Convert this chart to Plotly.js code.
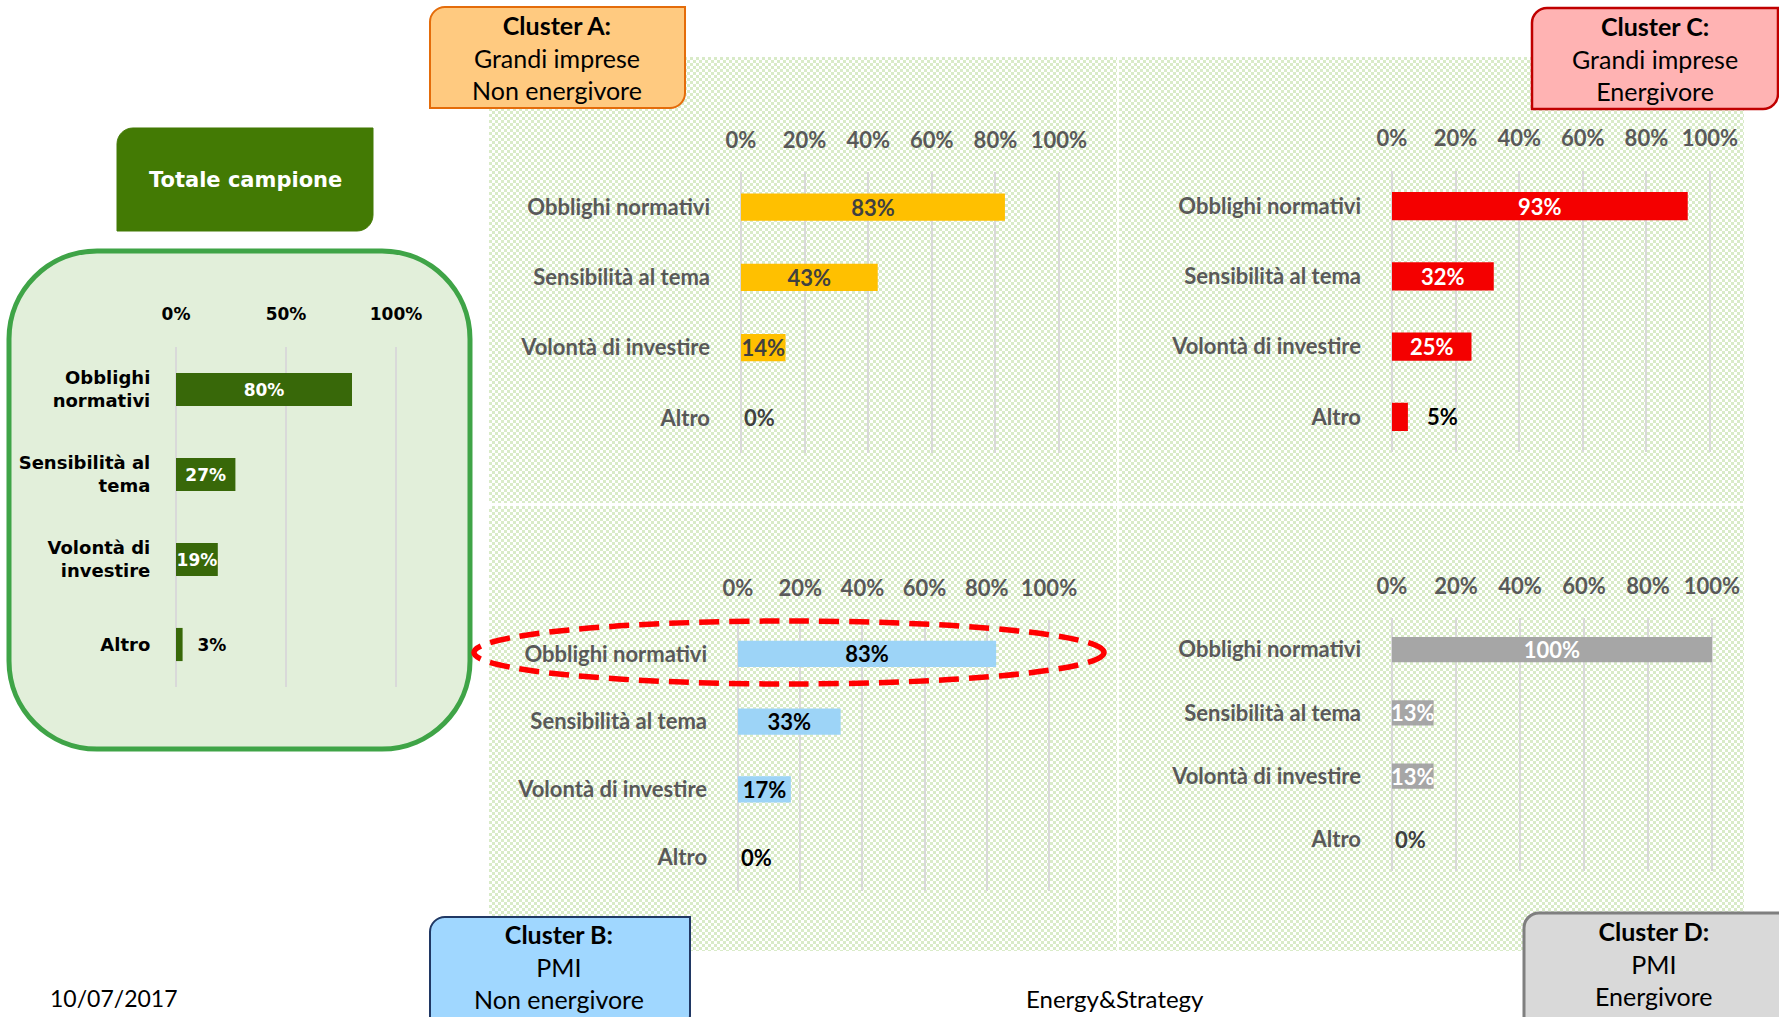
<!DOCTYPE html>
<html>
<head>
<meta charset="utf-8">
<script src="https://cdn.plot.ly/plotly-3.0.1.min.js"></script>
<style>
  html, body { margin:0; padding:0; background:#ffffff; overflow:hidden; }
  #wrap { position:relative; width:1779px; height:1017px; }
  .pat { position:absolute; background-color:#ffffff;
         background-image: repeating-conic-gradient(#D9EBC8 0 25%, #ffffff 0 50%);
         background-size:6px 6px; z-index:0; }
  #chart { position:absolute; left:0; top:0; width:1779px; height:1017px; z-index:1; }
</style>
</head>
<body>
<div id="wrap">
  <div class="pat" style="left:489px;top:57px;width:628px;height:446px;"></div>
  <div class="pat" style="left:1119px;top:57px;width:625px;height:446px;"></div>
  <div class="pat" style="left:489px;top:506px;width:628px;height:445px;"></div>
  <div class="pat" style="left:1119px;top:506px;width:625px;height:445px;"></div>
  <div id="chart"></div>
</div>
<script>
// ---------------- DATA ----------------
const categoriesTotale = ['Obblighi<br>normativi', 'Sensibilità al<br>tema', 'Volontà di<br>investire', 'Altro'];
const categoriesCluster = ['Obblighi normativi', 'Sensibilità al tema', 'Volontà di investire', 'Altro'];
const valuesTotale = [80, 27, 19, 3];
const valuesClusterA = [83, 43, 14, 0];
const valuesClusterB = [83, 33, 17, 0];
const valuesClusterC = [93, 32, 25, 5];
const valuesClusterD = [100, 13, 13, 0];
const ticksTotale = [0, 50, 100];
const tickLabelsTotale = ['0%', '50%', '100%'];
const ticksCluster = [0, 20, 40, 60, 80, 100];
const tickLabelsCluster = ['0%', '20%', '40%', '60%', '80%', '100%'];
const titleTotale = 'Totale campione';
const clusterA = ['Cluster A:', 'Grandi imprese', 'Non energivore'];
const clusterB = ['Cluster B:', 'PMI', 'Non energivore'];
const clusterC = ['Cluster C:', 'Grandi imprese', 'Energivore'];
const clusterD = ['Cluster D:', 'PMI', 'Energivore'];
const footerDate = '10/07/2017';
const footerSource = 'Energy&Strategy';

// ---------------- HELPERS ----------------
const W = 1779, H = 1017;
const X = p => p / W;
const Y = p => 1 - p / H;
const f = v => v.toFixed(5);

function rrect(x0, y0, x1, y1, r) {
  const k = 0.5523;
  const tl = r.tl || 0, tr = r.tr || 0, br = r.br || 0, bl = r.bl || 0;
  const P = (x, y) => f(X(x)) + ',' + f(Y(y));
  let s = 'M' + P(x0 + tl, y0);
  s += ' L' + P(x1 - tr, y0);
  if (tr) s += ' C' + P(x1 - tr + tr * k, y0) + ' ' + P(x1, y0 + tr - tr * k) + ' ' + P(x1, y0 + tr);
  s += ' L' + P(x1, y1 - br);
  if (br) s += ' C' + P(x1, y1 - br + br * k) + ' ' + P(x1 - br + br * k, y1) + ' ' + P(x1 - br, y1);
  s += ' L' + P(x0 + bl, y1);
  if (bl) s += ' C' + P(x0 + bl - bl * k, y1) + ' ' + P(x0, y1 - bl + bl * k) + ' ' + P(x0, y1 - bl);
  s += ' L' + P(x0, y0 + tl);
  if (tl) s += ' C' + P(x0, y0 + tl - tl * k) + ' ' + P(x0 + tl - tl * k, y0) + ' ' + P(x0 + tl, y0);
  s += ' Z';
  return s;
}

const CAL = 'Lato, "Open Sans", sans-serif';
const VER = '"DejaVu Sans", Verdana, sans-serif';
const clusterTickFont = {family: CAL, size: 22, color: '#595959', weight: 'bold'};
const totaleTickFont = {family: VER, size: 17, color: '#000000', weight: 'bold'};
const totaleCatFont = {family: VER, size: 18, color: '#000000', weight: 'bold'};

const PAD = 0.5; // small range padding so that the 0% and 100% gridlines are drawn
function xAxis(px0, px1, yName, tickvals, ticktext, font, ticklen) {
  const u = (px1 - px0) / 100;
  return {
    domain: [X(px0 - PAD * u), X(px1 + PAD * u)], anchor: yName, side: 'top', range: [-PAD, 100 + PAD],
    tickmode: 'array', tickvals: tickvals, ticktext: ticktext,
    showgrid: true, gridcolor: '#D9D9D9', gridwidth: 2, zeroline: false, showline: false,
    ticks: 'outside', ticklen: ticklen, tickcolor: 'rgba(0,0,0,0)', tickfont: font, fixedrange: true
  };
}
function yAxis(py0, py1, xName, font, ticklen) {
  return {
    domain: [Y(py1), Y(py0)], anchor: xName, type: 'category', range: [3.5, -0.5],
    showgrid: false, zeroline: false, showline: false,
    ticks: 'outside', ticklen: ticklen, tickcolor: 'rgba(0,0,0,0)', tickfont: font, fixedrange: true
  };
}
function barTrace(cats, vals, xa, ya, color, width, txtColors, txtFont, nb) {
  return {
    type: 'bar', orientation: 'h', x: vals, y: cats, xaxis: xa, yaxis: ya,
    marker: {color: color, line: {width: 0}}, width: width,
    text: vals.map(v => (v > 0 && v < 10 ? nb : '') + v + '%'),
    textposition: vals.map(v => v >= 10 ? 'inside' : 'outside'),
    insidetextanchor: 'middle', textangle: 0, constraintext: 'none', cliponaxis: false,
    textfont: Object.assign({}, txtFont, {color: txtColors}),
    hoverinfo: 'skip', showlegend: false
  };
}

const clusterTextFont = {family: CAL, size: 22, weight: 'bold'};
const totaleTextFont = {family: VER, size: 17, weight: 'bold'};
const NB3 = '\u00a0\u00a0\u00a0';
const NB2 = '\u00a0\u00a0';

const data = [
  barTrace(categoriesTotale, valuesTotale, 'x', 'y', '#386809', 0.39,
           ['#ffffff', '#ffffff', '#ffffff', '#000000'], totaleTextFont, NB2),
  barTrace(categoriesCluster, valuesClusterA, 'x2', 'y2', '#FFC000', 0.39,
           ['#404040', '#404040', '#404040', '#404040'], clusterTextFont, NB3),
  barTrace(categoriesCluster, valuesClusterC, 'x3', 'y3', '#F40000', 0.40,
           ['#ffffff', '#ffffff', '#ffffff', '#000000'], clusterTextFont, NB3),
  barTrace(categoriesCluster, valuesClusterB, 'x4', 'y4', '#9DD4F7', 0.39,
           ['#000000', '#000000', '#000000', '#000000'], clusterTextFont, NB3),
  barTrace(categoriesCluster, valuesClusterD, 'x5', 'y5', '#A6A6A6', 0.40,
           ['#ffffff', '#ffffff', '#ffffff', '#404040'], clusterTextFont, NB3)
];

function boxText(lines, cx, cy) {
  return {
    xref: 'paper', yref: 'paper', x: X(cx), y: Y(cy), xanchor: 'center', yanchor: 'middle',
    showarrow: false, align: 'center',
    text: '<b>' + lines[0] + '</b><br>' + lines[1] + '<br>' + lines[2],
    font: {family: CAL, size: 25, color: '#000000'}
  };
}

const layout = {
  width: W, height: H, margin: {l: 0, r: 0, t: 0, b: 0},
  paper_bgcolor: 'rgba(0,0,0,0)', plot_bgcolor: 'rgba(0,0,0,0)',
  font: {family: CAL},
  showlegend: false,
  xaxis: xAxis(176, 396, 'y', ticksTotale, tickLabelsTotale, totaleTickFont, 19),
  yaxis: yAxis(347, 687, 'x', totaleCatFont, 20),
  xaxis2: xAxis(741, 1059, 'y2', ticksCluster, tickLabelsCluster, clusterTickFont, 14),
  yaxis2: yAxis(172, 453, 'x2', clusterTickFont, 24),
  xaxis3: xAxis(1392, 1710, 'y3', ticksCluster, tickLabelsCluster, clusterTickFont, 15),
  yaxis3: yAxis(171, 452, 'x3', clusterTickFont, 24),
  xaxis4: xAxis(738, 1049, 'y4', ticksCluster, tickLabelsCluster, clusterTickFont, 14),
  yaxis4: yAxis(620, 891, 'x4', clusterTickFont, 24),
  xaxis5: xAxis(1392, 1712, 'y5', ticksCluster, tickLabelsCluster, clusterTickFont, 14),
  yaxis5: yAxis(618, 871, 'x5', clusterTickFont, 24),
  shapes: [
    {type: 'path', xref: 'paper', yref: 'paper', layer: 'below',
     path: rrect(9, 251, 470, 749, {tl: 88, tr: 88, br: 88, bl: 88}),
     fillcolor: '#E2EFDA', line: {color: '#3FA447', width: 5}},
    {type: 'path', xref: 'paper', yref: 'paper', layer: 'below',
     path: rrect(117, 128, 373, 231, {tl: 16, br: 16}),
     fillcolor: '#437A04', line: {color: '#437A04', width: 1}},
    {type: 'path', xref: 'paper', yref: 'paper', layer: 'below',
     path: rrect(430, 7, 685, 108, {tl: 15, br: 15}),
     fillcolor: '#FFCA80', line: {color: '#E46C0A', width: 2}},
    {type: 'path', xref: 'paper', yref: 'paper', layer: 'below',
     path: rrect(1532, 8, 1778, 109, {tl: 15, br: 15}),
     fillcolor: '#FFB3B3', line: {color: '#C00000', width: 2.5}},
    {type: 'path', xref: 'paper', yref: 'paper', layer: 'below',
     path: rrect(430, 917, 690, 1030, {tl: 15, br: 15}),
     fillcolor: '#A0D7FF', line: {color: '#203864', width: 2}},
    {type: 'path', xref: 'paper', yref: 'paper', layer: 'below',
     path: rrect(1524, 913, 1790, 1030, {tl: 15}),
     fillcolor: '#D9D9D9', line: {color: '#7F7F7F', width: 3}},
    {type: 'circle', xref: 'paper', yref: 'paper', layer: 'above',
     x0: X(474), x1: X(1104), y0: Y(684), y1: Y(621),
     fillcolor: 'rgba(0,0,0,0)', line: {color: '#FF0000', width: 5.5, dash: '20px,10px'}}
  ],
  annotations: [
    {xref: 'paper', yref: 'paper', x: X(245), y: Y(180), xanchor: 'center', yanchor: 'middle',
     showarrow: false, text: '<b>' + titleTotale + '</b>',
     font: {family: VER, size: 21, color: '#ffffff'}},
    boxText(clusterA, 557, 58),
    boxText(clusterC, 1655, 59),
    boxText(clusterB, 559, 966),
    boxText(clusterD, 1654, 963),
    {xref: 'paper', yref: 'paper', x: X(48), y: Y(998), xanchor: 'left', yanchor: 'middle',
     showarrow: false, text: footerDate, font: {family: CAL, size: 23, color: '#000000'}},
    {xref: 'paper', yref: 'paper', x: X(1115), y: Y(998), xanchor: 'center', yanchor: 'middle',
     showarrow: false, text: footerSource, font: {family: CAL, size: 24, color: '#000000'}}
  ]
};

Plotly.newPlot('chart', data, layout, {staticPlot: true, displayModeBar: false});
</script>
</body>
</html>
